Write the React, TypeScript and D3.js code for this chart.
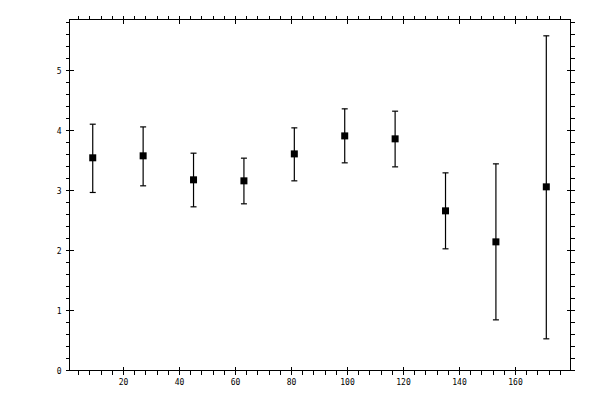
import * as d3 from "d3";
import React from "react";

const xValues = [9, 27, 45, 63, 81, 99, 117, 135, 153, 171];
const yValues = [3.545, 3.578, 3.178, 3.161, 3.61, 3.91, 3.861, 2.661, 2.144, 3.061];
const yUpper = [4.105, 4.06, 3.622, 3.539, 4.044, 4.361, 4.322, 3.294, 3.444, 5.578];
const yLower = [2.967, 3.078, 2.728, 2.778, 3.161, 3.461, 3.394, 2.028, 0.844, 0.528];

const xMajor = [20, 40, 60, 80, 100, 120, 140, 160];
const yMajor = [0, 1, 2, 3, 4, 5];

const width = 600;
const height = 400;
const left = 69.5;
const right = 570.5;
const top = 19.5;
const bottom = 370.5;

const App = () => {
  const x = d3.scaleLinear([0.7, 179.64], [left, right]);
  const y = d3.scaleLinear([0, 5.85], [bottom, top]);

  const xMinor = d3.range(4, 180, 4).filter((v) => v % 20 !== 0);
  const yMinor = d3.range(0, 5.85, 0.2).filter((v) => Math.abs(v - Math.round(v)) > 0.01);

  const font = { fontFamily: "DejaVu Sans Mono", fontSize: 8 };

  return (
    <svg
      width={width}
      height={height}
      style={{ position: "absolute", left: 0, top: 0, background: "white" }}
    >
      <g stroke="black" strokeWidth={1} shapeRendering="crispEdges" fill="none">
        <rect x={left} y={top} width={right - left} height={bottom - top} />
        {xMinor.map((v) => (
          <g key={"xm" + v}>
            <line x1={x(v)} x2={x(v)} y1={bottom} y2={bottom + 4} />
            <line x1={x(v)} x2={x(v)} y1={top} y2={top - 4} />
          </g>
        ))}
        {xMajor.map((v) => (
          <g key={"xM" + v}>
            <line x1={x(v)} x2={x(v)} y1={bottom - 4} y2={bottom + 4} />
            <line x1={x(v)} x2={x(v)} y1={top - 4} y2={top + 4} />
          </g>
        ))}
        {yMinor.map((v) => (
          <g key={"ym" + v}>
            <line x1={left} x2={left - 4} y1={y(v)} y2={y(v)} />
            <line x1={right} x2={right + 4} y1={y(v)} y2={y(v)} />
          </g>
        ))}
        {yMajor.map((v) => (
          <g key={"yM" + v}>
            <line x1={left - 4} x2={left + 4} y1={y(v)} y2={y(v)} />
            <line x1={right - 4} x2={right + 4} y1={y(v)} y2={y(v)} />
          </g>
        ))}
      </g>
      <g style={font} fill="black">
        {xMajor.map((v) => (
          <text key={"xl" + v} x={x(v)} y={bottom + 14} textAnchor="middle">
            {v}
          </text>
        ))}
        {yMajor.map((v) => (
          <text key={"yl" + v} x={left - 8} y={y(v) + 3} textAnchor="end">
            {v}
          </text>
        ))}
      </g>
      <g stroke="black" strokeWidth={1.2}>
        {xValues.map((v, i) => (
          <g key={"e" + i}>
            <line x1={x(v)} x2={x(v)} y1={y(yLower[i])} y2={y(yUpper[i])} />
            <line x1={x(v) - 3} x2={x(v) + 3} y1={y(yUpper[i])} y2={y(yUpper[i])} />
            <line x1={x(v) - 3} x2={x(v) + 3} y1={y(yLower[i])} y2={y(yLower[i])} />
          </g>
        ))}
      </g>
      <g fill="black">
        {xValues.map((v, i) => (
          <rect key={"p" + i} x={x(v) - 3.5} y={y(yValues[i]) - 3.5} width={7} height={7} />
        ))}
      </g>
    </svg>
  );
};

export default App;
